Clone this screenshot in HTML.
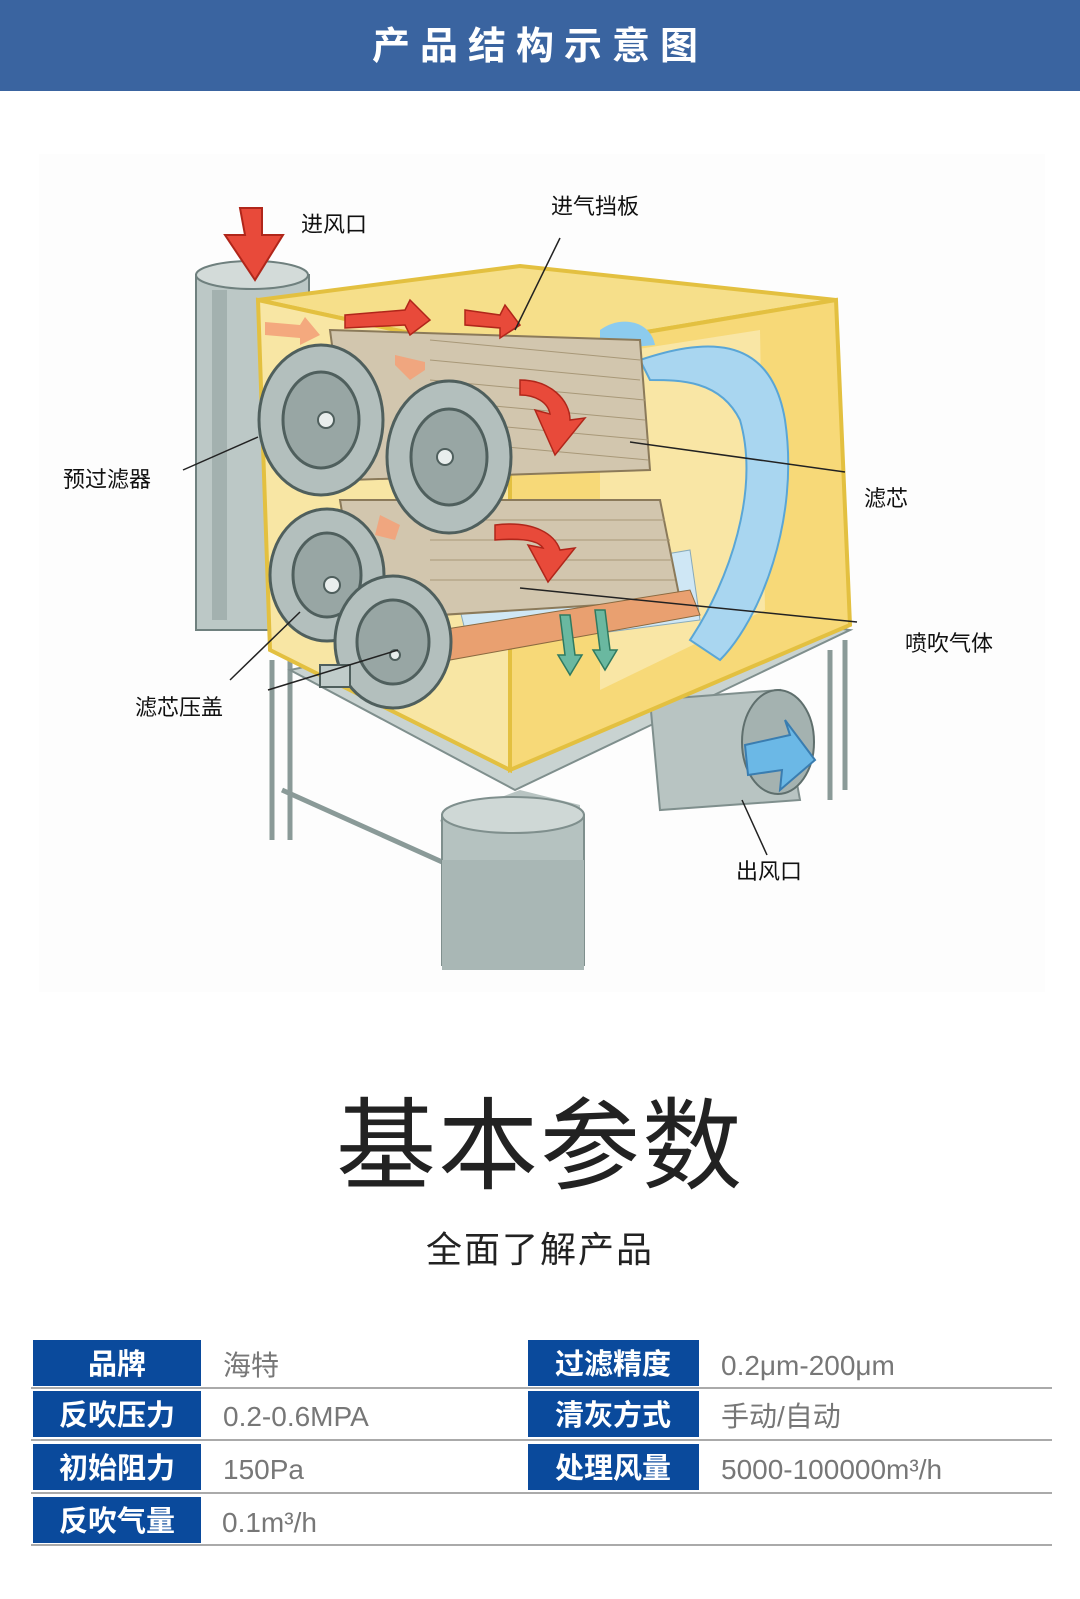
<!DOCTYPE html>
<html><head><meta charset="utf-8"><style>
html,body{margin:0;padding:0;background:#fff;}
body{width:1080px;height:1599px;overflow:hidden;}
svg{display:block}
</style></head><body>
<svg width="1080" height="1599" viewBox="0 0 1080 1599" xmlns="http://www.w3.org/2000/svg" font-family="'Liberation Sans','Noto Sans CJK SC',sans-serif">
<rect x="0" y="0" width="1080" height="91" fill="#3a64a0"/>
<text x="540" y="59" font-size="38" fill="#fff" text-anchor="middle" letter-spacing="10" font-weight="bold">产品结构示意图</text>

<rect x="39" y="154" width="1006" height="838" fill="#fdfdfd"/>
<g stroke="#8a9a98" stroke-width="5" fill="none">
<line x1="272" y1="660" x2="272" y2="840"/>
<line x1="290" y1="660" x2="290" y2="840"/>
<line x1="830" y1="650" x2="830" y2="800"/>
<line x1="845" y1="640" x2="845" y2="790"/>
<line x1="282" y1="790" x2="460" y2="870"/>
</g>
<polygon points="290,670 515,790 850,630 620,600" fill="#c9d3d1" stroke="#7f8f8d" stroke-width="2"/>
<polygon points="440,820 520,790 580,805 580,840 450,845" fill="#b8c4c2"/>
<rect x="442" y="815" width="142" height="150" fill="#b5c2c0" stroke="#7f8f8d" stroke-width="2"/>
<ellipse cx="513" cy="815" rx="71" ry="18" fill="#cfd8d6" stroke="#7f8f8d" stroke-width="2"/>
<rect x="442" y="860" width="142" height="110" fill="#a9b7b5"/>
<polygon points="650,700 780,690 800,800 660,810" fill="#b8c4c2" stroke="#7f8f8d" stroke-width="2"/>
<ellipse cx="778" cy="742" rx="36" ry="52" fill="#a4b2b0" stroke="#5f6f6d" stroke-width="2"/>
<path d="M745,745 L790,735 L785,720 L815,760 L780,790 L782,770 L748,775 Z" fill="#6bb8e6" stroke="#3a7db0" stroke-width="2"/>
<rect x="196" y="275" width="113" height="355" fill="#bcc8c6" stroke="#6f807e" stroke-width="2"/>
<ellipse cx="252" cy="275" rx="56" ry="14" fill="#d3dbd9" stroke="#6f807e" stroke-width="2"/>
<rect x="212" y="290" width="15" height="330" fill="#a3b1af"/>
<path d="M240,208 L262,208 L262,235 L283,235 L255,280 L225,235 L245,235 Z" fill="#e84a3a" stroke="#b0261a" stroke-width="2"/>
<polygon points="258,300 520,266 836,300 510,355" fill="#f6df8a" stroke="#e3c040" stroke-width="4"/>
<polygon points="258,300 510,355 510,770 270,650" fill="#f8e6a4" stroke="#e3c040" stroke-width="4"/>
<polygon points="510,355 836,300 850,625 510,770" fill="#f7d978" stroke="#e3c040" stroke-width="4"/>
<polygon points="600,355 760,330 765,610 600,690" fill="#f9e9b0" opacity="0.8"/>
<path d="M640,360 C700,340 770,330 785,420 C800,520 760,620 720,660 L690,640 C730,580 760,490 740,420 C720,380 680,380 650,380 Z" fill="#a9d6f0" stroke="#5aa6d6" stroke-width="2"/>
<path d="M600,330 C620,315 650,320 655,345 L600,350 Z" fill="#8ccbee"/>
<path d="M455,590 L690,550 L700,620 L470,650 Z" fill="#cfe7f5" stroke="#8ab" stroke-width="1"/>
<g fill="#d2c6ae" stroke="#8b7a5a" stroke-width="2">
<polygon points="330,330 640,340 650,470 350,480"/>
<polygon points="340,500 660,500 680,600 360,620"/>
</g>
<g stroke="#a89878" stroke-width="1">
<line x1="430" y1="340" x2="640" y2="360"/><line x1="430" y1="360" x2="640" y2="380"/><line x1="430" y1="380" x2="645" y2="400"/><line x1="430" y1="400" x2="645" y2="420"/><line x1="430" y1="420" x2="648" y2="440"/><line x1="430" y1="440" x2="648" y2="460"/>
<line x1="430" y1="520" x2="665" y2="520"/><line x1="430" y1="540" x2="670" y2="540"/><line x1="430" y1="560" x2="672" y2="560"/><line x1="430" y1="580" x2="675" y2="580"/>
</g>
<path d="M440,630 L690,590 L700,615 L450,660 Z" fill="#e9a070" stroke="#8b6a40" stroke-width="1"/>
<g stroke="#4f5f5d" stroke-width="3">
<ellipse cx="321" cy="420" rx="62" ry="75" fill="#b3bfbd"/>
<ellipse cx="321" cy="420" rx="38" ry="48" fill="#98a6a4"/>
<ellipse cx="449" cy="457" rx="62" ry="76" fill="#b3bfbd"/>
<ellipse cx="449" cy="457" rx="38" ry="48" fill="#98a6a4"/>
<ellipse cx="327" cy="575" rx="57" ry="66" fill="#b3bfbd"/>
<ellipse cx="327" cy="575" rx="34" ry="42" fill="#98a6a4"/>
<ellipse cx="393" cy="642" rx="58" ry="66" fill="#b3bfbd"/>
<ellipse cx="393" cy="642" rx="36" ry="42" fill="#98a6a4"/>
</g>
<g fill="#e9eeed" stroke="#4f5f5d" stroke-width="2">
<circle cx="326" cy="420" r="8"/><circle cx="445" cy="457" r="8"/><circle cx="332" cy="585" r="8"/><circle cx="395" cy="655" r="5"/>
</g>
<rect x="320" y="665" width="30" height="22" fill="#c0ccca" stroke="#4f5f5d" stroke-width="2"/>
<g fill="#e84a3a" stroke="#b0261a" stroke-width="1.5">
<path d="M520,380 C550,380 570,400 570,420 L585,418 L555,455 L535,410 L550,414 C548,402 535,395 520,395 Z"/>
<path d="M495,525 C535,520 555,535 560,550 L575,548 L548,582 L528,545 L543,548 C538,540 520,538 495,540 Z"/>
<path d="M345,315 L405,310 L410,300 L430,320 L410,335 L405,325 L345,328 Z"/>
<path d="M465,310 L500,315 L505,305 L520,325 L500,338 L500,328 L465,325 Z"/>
</g>
<g fill="#f3a27a" opacity="0.9">
<path d="M265,322 L300,325 L305,317 L320,335 L300,345 L300,338 L265,335 Z"/>
<path d="M395,355 L425,362 L425,370 L410,380 L395,365 Z"/>
<path d="M380,515 L400,525 L395,540 L375,535 Z"/>
</g>
<g fill="#6ab8a0" stroke="#2f7a60" stroke-width="1.5">
<path d="M560,615 L570,615 L575,655 L582,655 L570,675 L558,655 L565,655 Z"/>
<path d="M595,610 L605,610 L610,650 L617,650 L605,670 L593,650 L600,650 Z"/>
</g>
<g stroke="#222" stroke-width="1.5">
<line x1="560" y1="238" x2="515" y2="330"/>
<line x1="183" y1="470" x2="258" y2="437"/>
<line x1="630" y1="442" x2="845" y2="472"/>
<line x1="520" y1="588" x2="857" y2="622"/>
<line x1="230" y1="680" x2="300" y2="612"/>
<line x1="268" y1="690" x2="398" y2="650"/>
<line x1="742" y1="800" x2="767" y2="855"/>
</g>
<g font-size="22" fill="#111">
<text x="301" y="232">进风口</text>
<text x="551" y="214">进气挡板</text>
<text x="63" y="487">预过滤器</text>
<text x="864" y="506">滤芯</text>
<text x="905" y="651">喷吹气体</text>
<text x="135" y="715">滤芯压盖</text>
<text x="736" y="879">出风口</text>
</g>

<text x="540" y="1181" font-size="100" fill="#222" text-anchor="middle" letter-spacing="2">基本参数</text>
<text x="540" y="1262" font-size="36" fill="#222" text-anchor="middle" letter-spacing="2">全面了解产品</text>

<g fill="#0a4a9c">
<rect x="33" y="1340" width="168" height="46"/>
<rect x="33" y="1391" width="168" height="46"/>
<rect x="33" y="1444" width="168" height="46"/>
<rect x="33" y="1497" width="168" height="46"/>
<rect x="528" y="1340" width="171" height="46"/>
<rect x="528" y="1391" width="171" height="46"/>
<rect x="528" y="1444" width="171" height="46"/>
</g>
<g stroke="#aaa" stroke-width="2">
<line x1="31" y1="1388" x2="1052" y2="1388"/>
<line x1="31" y1="1440" x2="1052" y2="1440"/>
<line x1="31" y1="1493" x2="1052" y2="1493"/>
<line x1="31" y1="1545" x2="1052" y2="1545"/>
</g>
<g font-size="29" fill="#fff" font-weight="bold" text-anchor="middle">
<text x="117" y="1374">品牌</text>
<text x="117" y="1425">反吹压力</text>
<text x="117" y="1478">初始阻力</text>
<text x="117" y="1531">反吹气量</text>
<text x="613" y="1374">过滤精度</text>
<text x="613" y="1425">清灰方式</text>
<text x="613" y="1478">处理风量</text>
</g>
<g font-size="28" fill="#777">
<text x="223" y="1375">海特</text>
<text x="223" y="1426">0.2-0.6MPA</text>
<text x="223" y="1479">150Pa</text>
<text x="222" y="1532">0.1m³/h</text>
<text x="721" y="1375">0.2μm-200μm</text>
<text x="721" y="1426">手动/自动</text>
<text x="721" y="1479">5000-100000m³/h</text>
</g>
</svg>
</body></html>
